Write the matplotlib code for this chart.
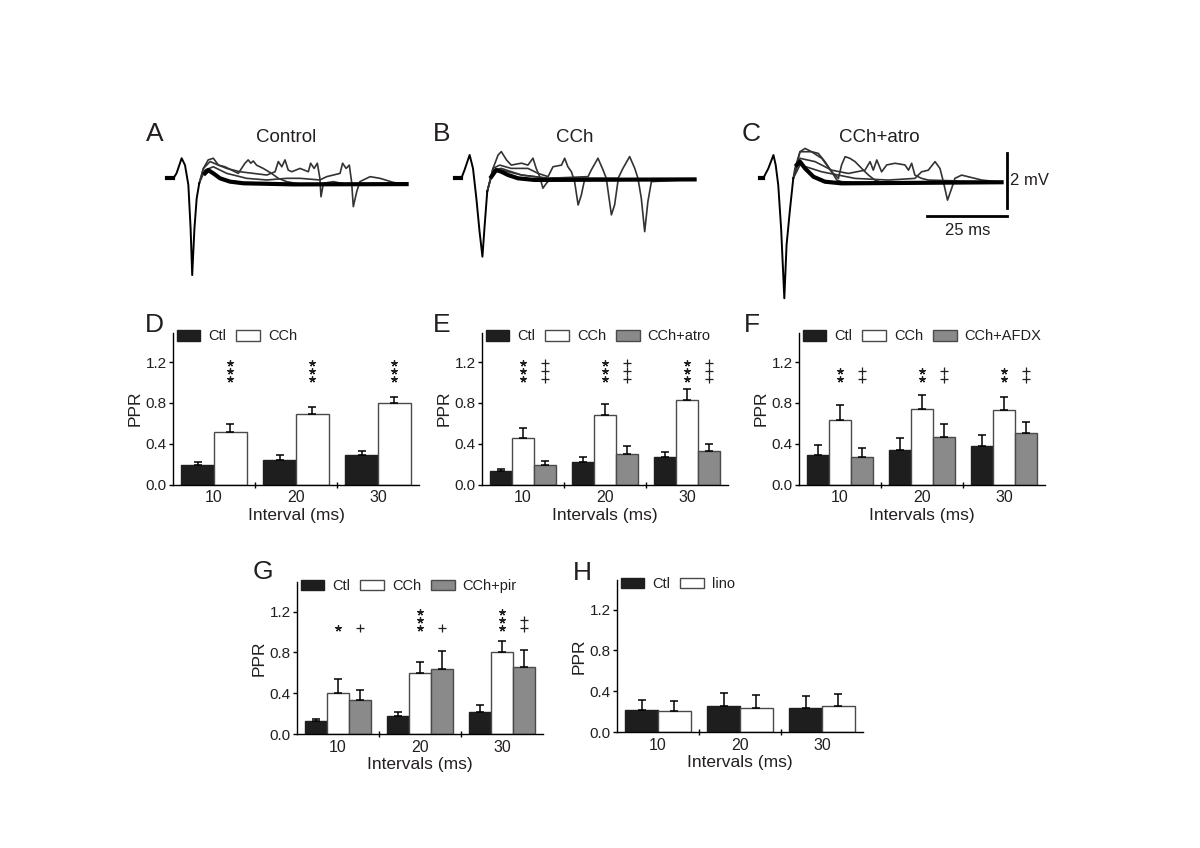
import matplotlib
matplotlib.use('Agg')
import matplotlib.pyplot as plt
import numpy as np

plt.rcParams['font.family'] = ['Liberation Sans', 'DejaVu Sans']
INK = '#231f20'

# ---------------- trace data (ms, mV) ----------------
A_thick_t = [0.5, 2.6, 3.6, 5.2, 6.25, 7.3, 8.0, 8.5, 9.2, 9.9, 10.7, 12.5, 13.5, 15.1, 17.2, 20.3, 24.5, 40.1, 75.5]
A_thick_v = [0.17, 0.17, 0.35, 0.90, 0.65, -0.07, -1.65, -3.35, -1.65, -0.56, -0.01, 0.35, 0.47, 0.35, 0.17, 0.05, -0.01, -0.05, -0.04]
A_s1_t = [10.7, 12.0, 13.5, 15.1, 16.7, 18.75, 20.8, 22.9, 25.0, 26.0, 26.8, 27.6, 28.6, 30.7, 33.3, 35.4, 38.0, 42.2, 75.5]
A_s1_v = [-0.01, 0.53, 0.84, 0.90, 0.65, 0.59, 0.47, 0.35, 0.72, 0.84, 0.72, 0.80, 0.65, 0.53, 0.35, 0.17, 0.05, -0.04, -0.04]
A_s2_t = [10.7, 12.0, 14.1, 16.7, 19.3, 23.4, 27.6, 31.8, 34.4, 35.4, 36.5, 37.5, 38.5, 39.6, 42.2, 44.8, 45.5, 46.6,
          47.6, 48.4, 48.75, 49.5, 52.6, 56.8, 75.5]
A_s2_v = [-0.01, 0.53, 0.78, 0.65, 0.53, 0.41, 0.35, 0.29, 0.41, 0.78, 0.59, 0.84, 0.47, 0.41, 0.53, 0.41, 0.72, 0.53,
          0.72, 0.17, -0.50, -0.01, 0.05, -0.05, -0.04]
A_s3_t = [10.7, 12.5, 15.1, 19.3, 25.5, 31.8, 38.0, 42.2, 48.4, 50.5, 52.6, 54.7, 55.5, 56.6, 57.6, 58.3, 58.85, 59.9,
          60.9, 64.1, 67.2, 71.4, 75.5]
A_s3_v = [-0.01, 0.47, 0.59, 0.35, 0.17, 0.11, 0.17, 0.17, 0.11, 0.23, 0.29, 0.35, 0.72, 0.53, 0.65, 0.05, -0.86, -0.32,
          0.05, 0.23, 0.17, 0.02, -0.04]

B_thick_t = [0.5, 2.6, 3.6, 5.2, 6.25, 7.3, 8.3, 9.2, 9.9, 10.7, 12.0, 13.5, 15.1, 17.2, 20.3, 25.5, 75.5]
B_thick_v = [0.0, 0.0, 0.30, 0.85, 0.36, -0.73, -1.94, -2.85, -1.70, -0.48, 0.06, 0.30, 0.24, 0.12, 0.0, -0.06, -0.04]
B_s1_t = [10.7, 12.5, 14.1, 15.1, 16.7, 18.2, 21.4, 23.4, 25.0, 26.0, 27.1, 28.1, 29.2, 30.7, 75.5]
B_s1_v = [-0.48, 0.36, 0.85, 0.97, 0.67, 0.48, 0.55, 0.48, 0.73, 0.36, 0.06, -0.36, -0.18, 0.0, -0.04]
B_s2_t = [10.7, 12.5, 14.6, 18.2, 23.4, 26.6, 29.7, 31.25, 33.9, 34.9, 35.9, 37.0, 38.0, 39.1, 40.1, 41.1, 75.5]
B_s2_v = [-0.48, 0.36, 0.48, 0.36, 0.36, 0.18, 0.06, 0.42, 0.48, 0.73, 0.42, 0.24, -0.12, -0.97, -0.61, -0.06, -0.04]
B_s3_t = [10.7, 12.5, 15.1, 21.4, 29.7, 42.2, 43.2, 45.3, 46.9, 47.9, 49.5, 50.5, 51.6, 75.5]
B_s3_v = [-0.48, 0.30, 0.36, 0.12, 0.0, 0.06, 0.30, 0.73, 0.30, 0.0, -1.33, -0.97, -0.06, -0.04]
B_s4_t = [10.7, 12.5, 15.1, 21.4, 29.7, 40.1, 51.6, 53.1, 55.2, 56.8, 57.8, 58.85, 59.9, 60.9, 62.0, 75.5]
B_s4_v = [-0.48, 0.30, 0.30, 0.12, 0.0, 0.0, 0.0, 0.36, 0.79, 0.36, 0.0, -0.73, -1.94, -0.85, -0.12, -0.04]

C_thick_t = [0.0, 1.0, 2.6, 4.2, 4.9, 5.7, 6.6, 7.6, 8.3, 9.4, 10.4, 11.5, 12.5, 14.1, 16.7, 20.3, 25.5, 75.5]
C_thick_v = [0.12, 0.12, 0.48, 0.97, 0.61, -0.12, -1.70, -4.24, -2.30, -0.97, 0.12, 0.61, 0.73, 0.48, 0.18, 0.0, -0.06, -0.02]
C_s1_t = [10.4, 10.9, 12.5, 14.1, 16.1, 18.2, 20.3, 22.4, 24.0, 25.5, 29.7, 75.5]
C_s1_v = [0.12, 0.48, 1.09, 1.21, 1.09, 1.03, 0.73, 0.36, 0.06, 0.0, -0.02, -0.02]
C_s2_t = [10.4, 12.5, 16.1, 19.3, 22.4, 24.5, 25.5, 26.6, 28.1, 29.7, 31.8, 33.9, 35.9, 38.0, 75.5]
C_s2_v = [0.12, 1.09, 1.09, 0.85, 0.36, 0.12, 0.61, 0.91, 0.85, 0.73, 0.48, 0.24, 0.06, -0.02, -0.02]
C_s3_t = [10.4, 12.5, 17.2, 22.4, 27.6, 32.8, 34.4, 35.4, 36.5, 38.0, 39.6, 42.2, 45.3, 46.4, 47.4, 48.4, 50.5, 52.6, 75.5]
C_s3_v = [0.12, 0.85, 0.73, 0.42, 0.30, 0.42, 0.73, 0.42, 0.79, 0.36, 0.61, 0.67, 0.61, 0.42, 0.67, 0.24, 0.12, 0.06, -0.02]
C_s4_t = [10.4, 12.5, 19.3, 29.7, 40.1, 48.4, 50.5, 52.6, 54.7, 56.25, 57.3, 58.6, 59.9, 60.9, 63.0, 65.1, 69.3, 75.5]
C_s4_v = [0.12, 0.61, 0.36, 0.12, 0.06, 0.12, 0.36, 0.42, 0.73, 0.48, 0.0, -0.67, -0.24, 0.12, 0.24, 0.18, 0.06, -0.02]

scale_ms = 25
scale_mv = 2

# ---------------- bar data (PPR) ----------------
intervals = ['10', '20', '30']

D_ctl = [0.19, 0.245, 0.285]
D_ctl_err = [0.03, 0.045, 0.04]
D_cch = [0.515, 0.695, 0.80]
D_cch_err = [0.08, 0.06, 0.06]

E_ctl = [0.13, 0.22, 0.265]
E_ctl_err = [0.025, 0.045, 0.055]
E_cch = [0.46, 0.68, 0.83]
E_cch_err = [0.09, 0.105, 0.11]
E_atro = [0.19, 0.295, 0.325]
E_atro_err = [0.045, 0.085, 0.07]

F_ctl = [0.29, 0.335, 0.375]
F_ctl_err = [0.095, 0.12, 0.11]
F_cch = [0.63, 0.74, 0.73]
F_cch_err = [0.15, 0.135, 0.13]
F_afdx = [0.265, 0.47, 0.50]
F_afdx_err = [0.09, 0.12, 0.115]

G_ctl = [0.125, 0.175, 0.215]
G_ctl_err = [0.025, 0.04, 0.065]
G_cch = [0.40, 0.60, 0.80]
G_cch_err = [0.135, 0.11, 0.11]
G_pir = [0.335, 0.635, 0.66]
G_pir_err = [0.10, 0.18, 0.165]

H_ctl = [0.215, 0.25, 0.24]
H_ctl_err = [0.10, 0.13, 0.11]
H_lino = [0.205, 0.24, 0.25]
H_lino_err = [0.10, 0.12, 0.125]

D_sig = {1: ['***', '***', '***']}
E_sig = {1: ['***', '***', '***'], 2: ['+++', '+++', '+++']}
F_sig = {1: ['**', '**', '**'], 2: ['++', '++', '++']}
G_sig = {1: ['*', '***', '***'], 2: ['+', '+', '++']}
H_sig = {}

# ---------------- figure ----------------
W, H = 1200, 848
fig = plt.figure(figsize=(12, 8.48), dpi=100)


def px_axes(left, top, right, bottom):
    return fig.add_axes([left / W, 1 - bottom / H, (right - left) / W, (bottom - top) / H])


def ftext(x, y, s, **kw):
    fig.text(x / W, 1 - y / H, s, color=INK, **kw)


PX_MS = 3.2
PX_MV = 27.5


def trace_axes(left, top, right, bottom, x0, y0):
    ax = px_axes(left, top, right, bottom)
    ax.set_xlim((left - x0) / PX_MS, (right - x0) / PX_MS)
    ax.set_ylim((y0 - bottom) / PX_MV, (y0 - top) / PX_MV)
    ax.axis('off')
    return ax


def draw_traces(ax, thick_t, thick_v, sweeps):
    for t, v in sweeps:
        ax.plot(t, v, color='#333333', lw=1.2, solid_joinstyle='round')
    t = np.array(thick_t)
    v = np.array(thick_v)
    early = t <= 10.8
    ax.plot(t[early], v[early], color='k', lw=1.4, solid_joinstyle='round')
    ax.plot(t[~early], v[~early], color='k', lw=3.0, solid_joinstyle='round')
    ax.plot(t[:2], v[:2], color='k', lw=3.0)


axA = trace_axes(150, 140, 420, 290, 165, 183)
draw_traces(axA, A_thick_t, A_thick_v, [(A_s1_t, A_s1_v), (A_s2_t, A_s2_v), (A_s3_t, A_s3_v)])
axB = trace_axes(440, 140, 705, 270, 453, 178.3)
draw_traces(axB, B_thick_t, B_thick_v, [(B_s1_t, B_s1_v), (B_s2_t, B_s2_v), (B_s3_t, B_s3_v), (B_s4_t, B_s4_v)])
axC = trace_axes(745, 140, 1010, 305, 760, 181.7)
draw_traces(axC, C_thick_t, C_thick_v, [(C_s1_t, C_s1_v), (C_s2_t, C_s2_v), (C_s3_t, C_s3_v), (C_s4_t, C_s4_v)])

# scale bar
sb_t, sb_v = 77.3, -1.25
axC.plot([sb_t, sb_t], [sb_v + 0.29, sb_v + 0.29 + scale_mv], color='k', lw=2, clip_on=False)
axC.plot([sb_t - scale_ms, sb_t], [sb_v, sb_v], color='k', lw=2, clip_on=False)
axC.text(sb_t + 0.9, sb_v + 0.29 + scale_mv / 2, '%d mV' % scale_mv, fontsize=12, va='center', ha='left', color=INK)
axC.text(sb_t - scale_ms / 2, sb_v - 0.25, '%d ms' % scale_ms, fontsize=12, va='top', ha='center', color=INK)

for x, y, s in [(155, 134, 'A'), (442, 134, 'B'), (751, 134, 'C'),
                (154, 325, 'D'), (442, 325, 'E'), (752, 325, 'F'),
                (263, 572, 'G'), (582, 573, 'H')]:
    ftext(x, y, s, fontsize=19, ha='center', va='center')
for x, y, s in [(286, 137, 'Control'), (575, 137, 'CCh'), (879, 137, 'CCh+atro')]:
    ftext(x, y, s, fontsize=13.5, ha='center', va='center')

FILL = {'ctl': '#1e1e1e', 'cch': 'white', 'drug': '#8a8a8a'}
EDGE = {'ctl': '#1e1e1e', 'cch': '#4a4a4a', 'drug': '#4a4a4a'}


def bar_panel(left, zero_y, series, sig, xlabel):
    top = zero_y - 152
    ax = px_axes(left, top, left + 246, zero_y)
    n = len(series)
    width = 0.4 if n == 2 else 0.265
    offsets = (np.arange(n) - (n - 1) / 2) * width
    x = np.arange(len(intervals))
    handles = []
    for i, (label, kind, vals, err) in enumerate(series):
        b = ax.bar(x + offsets[i], vals, width, color=FILL[kind], edgecolor=EDGE[kind], lw=1, zorder=2,
                   label=label)
        ax.errorbar(x + offsets[i], vals, yerr=[np.zeros(len(vals)), err], fmt='none', ecolor='k',
                    elinewidth=1.1, capsize=3.2, capthick=1.1, zorder=3)
        handles.append(b)
    for i, marks in sig.items():
        for g, m in enumerate(marks):
            for k in range(len(m)):
                if m[k] == '*':
                    ax.plot(x[g] + offsets[i], 1.035 + 0.08 * k, marker=(5, 2, 0), ms=4.6, mew=0.9,
                            color=INK, clip_on=False)
                else:
                    ax.plot(x[g] + offsets[i], 1.035 + 0.08 * k, marker='+', ms=5.2, mew=0.9,
                            color=INK, clip_on=False)
    ax.set_xlim(-0.5, 2.5)
    ax.set_ylim(0, 1.49)
    ax.set_yticks([0, 0.4, 0.8, 1.2], ['0.0', '0.4', '0.8', '1.2'])
    ax.set_xticks(x, intervals)
    ax.set_xticks([0.5, 1.5], minor=True)
    ax.tick_params(axis='x', which='major', length=0, pad=4, labelsize=11.5, labelcolor=INK)
    ax.tick_params(axis='x', which='minor', length=5, width=1, direction='inout')
    ax.tick_params(axis='y', length=3, width=1, direction='out', pad=1.5, labelsize=11, labelcolor=INK)
    for s in ['top', 'right']:
        ax.spines[s].set_visible(False)
    for s in ['left', 'bottom']:
        ax.spines[s].set_linewidth(1)
    ax.set_ylabel('PPR', fontsize=12.5, color=INK, labelpad=2)
    ax.set_xlabel(xlabel, fontsize=12.5, color=INK, labelpad=2)
    ax.legend(handles=handles, ncol=n, loc='upper left', bbox_to_anchor=(0.016, 1.02),
              frameon=False, fontsize=10.5, handlelength=1.6, handleheight=0.72, handletextpad=0.55,
              columnspacing=0.7, borderpad=0, borderaxespad=0, labelcolor=INK)
    return ax


bar_panel(173, 484.5, [('Ctl', 'ctl', D_ctl, D_ctl_err), ('CCh', 'cch', D_cch, D_cch_err)],
          D_sig, 'Interval (ms)')
bar_panel(482, 484.5, [('Ctl', 'ctl', E_ctl, E_ctl_err), ('CCh', 'cch', E_cch, E_cch_err),
                       ('CCh+atro', 'drug', E_atro, E_atro_err)], E_sig, 'Intervals (ms)')
bar_panel(799, 484.5, [('Ctl', 'ctl', F_ctl, F_ctl_err), ('CCh', 'cch', F_cch, F_cch_err),
                       ('CCh+AFDX', 'drug', F_afdx, F_afdx_err)], F_sig, 'Intervals (ms)')
bar_panel(297, 734, [('Ctl', 'ctl', G_ctl, G_ctl_err), ('CCh', 'cch', G_cch, G_cch_err),
                     ('CCh+pir', 'drug', G_pir, G_pir_err)], G_sig, 'Intervals (ms)')
bar_panel(617, 732, [('Ctl', 'ctl', H_ctl, H_ctl_err), ('lino', 'cch', H_lino, H_lino_err)],
          H_sig, 'Intervals (ms)')

fig.savefig('out.png', dpi=100)
